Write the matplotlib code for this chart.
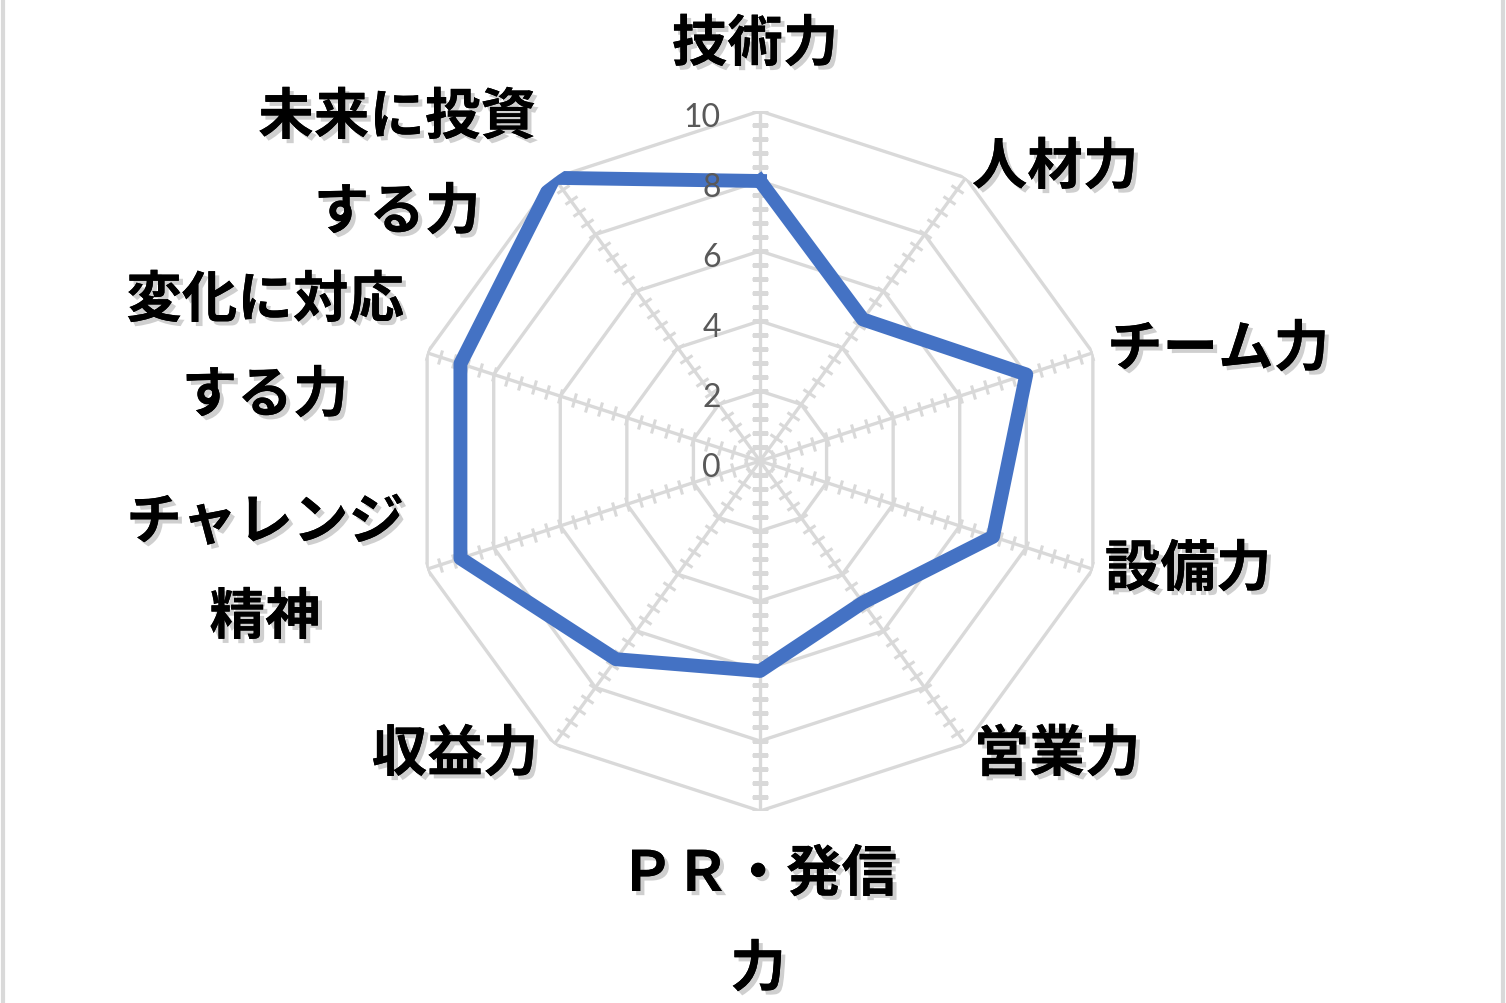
import numpy as np
import matplotlib
matplotlib.use('Agg')
import matplotlib.pyplot as plt
import matplotlib.patheffects as pe
from matplotlib.markers import MarkerStyle
from matplotlib.transforms import Affine2D, offset_copy
from matplotlib.lines import Line2D

plt.rcParams['font.family'] = ['Noto Sans CJK JP', 'DejaVu Sans']

categories = ['技術力', '人材力', 'チーム力', '設備力', '営業力',
              'ＰＲ・発信\n力', '収益力', 'チャレンジ\n精神', '変化に対応\nする力', '未来に投資\nする力']
values = [8, 5, 8, 7, 5, 6, 7, 9, 9, 10]
r_ticks = [0, 2, 4, 6, 8, 10]

# label centres in pixels (first line), image is 1506 x 1004
label_pos = [(755, 46), (1055, 169), (1218, 351), (1188, 571), (1057, 756),
             (758, 876), (455, 756), (265, 524), (265, 302), (397, 119)]

W, H = 1506, 1004
fig = plt.figure(figsize=(W / 100, H / 100), dpi=100)
cx, cy, R = 760, 462, 350
ax = fig.add_axes([(cx - R) / W, (H - cy - R) / H, 2 * R / W, 2 * R / H], projection='polar')
ax.set_theta_zero_location('N')
ax.set_theta_direction(-1)
ax.set_ylim(0, 10)
ax.grid(False)
ax.spines['polar'].set_visible(False)
ax.set_xticks([])
ax.set_yticks([])
ax.patch.set_alpha(0)

n = len(categories)
theta = np.arange(n) * 2 * np.pi / n
theta_c = np.append(theta, theta[0])
grid_col = '#d9d9d9'

# polygon gridlines
for r in r_ticks[1:]:
    ax.plot(theta_c, [r] * (n + 1), color=grid_col, lw=2.4, zorder=1)

# spokes with cross tick marks
minor = np.arange(0.4, 10.01, 0.4)
for t in theta:
    ax.plot([t, t], [0, 10], color=grid_col, lw=2.4, zorder=1)
    m = MarkerStyle('_', transform=Affine2D().rotate_deg(-np.degrees(t)))
    ax.plot([t] * len(minor), minor, ls='none', marker=m, ms=11, mew=2.2,
            color=grid_col, zorder=1)

# data line
vals = values + values[:1]
ax.plot(theta_c, vals, color='#4472C4', lw=10, solid_joinstyle='round', zorder=3)

# radial value labels
tr = offset_copy(ax.transData, fig=fig, x=-39, y=-6, units='dots')
for r in r_ticks:
    ax.text(0, r, str(r), transform=tr, ha='right', va='center',
            fontsize=23, color='#595959', family=['Lato', 'DejaVu Sans'], zorder=4)

# category labels with shadow
shadow = [pe.withSimplePatchShadow(offset=(3, -3), shadow_rgbFace='#777777', alpha=0.35), pe.Normal()]
for lab, (x, y) in zip(categories, label_pos):
    for i, line in enumerate(lab.split('\n')):
        fig.text(x / W, 1 - (y + i * 95) / H, line, ha='center', va='center',
                 fontsize=40, fontweight='bold', color='black', path_effects=shadow)

# frame edges
fig.add_artist(Line2D([3 / W, 3 / W], [0, 1], color='#d9d9d9', lw=3))
fig.add_artist(Line2D([1 - 3 / W, 1 - 3 / W], [0, 1], color='#d9d9d9', lw=3))

fig.savefig('out.png', dpi=100)
